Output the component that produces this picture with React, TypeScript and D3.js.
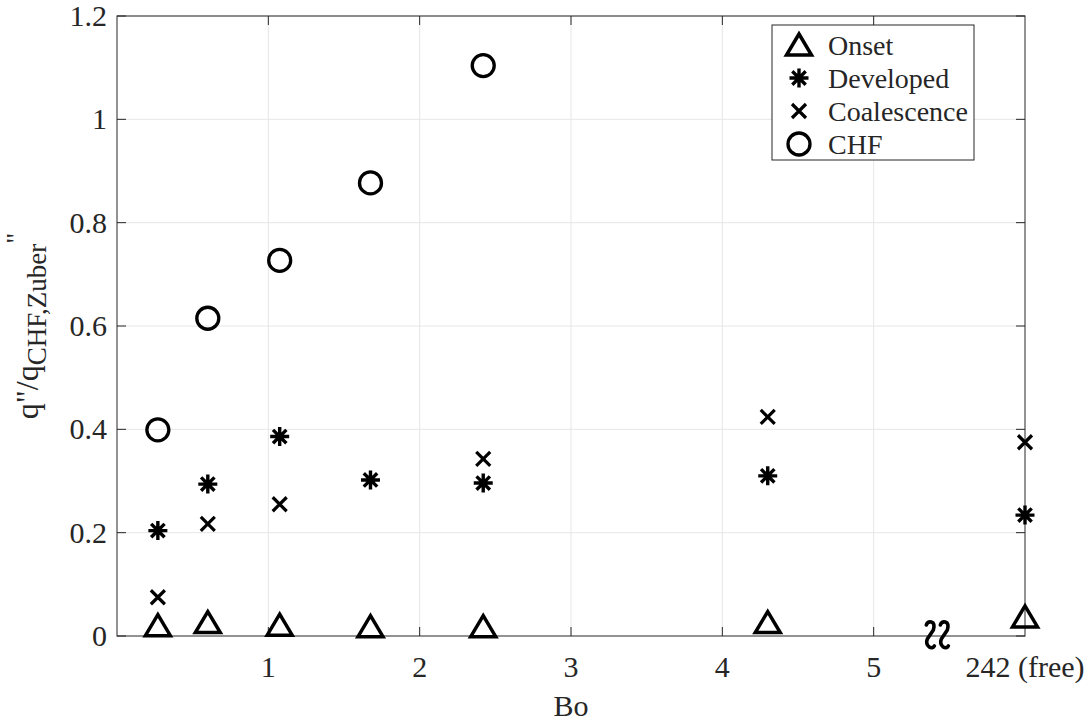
import React from 'react';
import * as d3 from 'd3';

// Bo values of the runs; the last one is the free (unconfined) case drawn past the axis break
const boValues = [0.27, 0.6, 1.075, 1.675, 2.42, 4.3, 242];
const xTickValues = [1, 2, 3, 4, 5, 6];
const xTickLabels = ['1', '2', '3', '4', '5', '242 (free)'];
const yTickValues = [0, 0.2, 0.4, 0.6, 0.8, 1, 1.2];

// q''/q''CHF,Zuber for each stage
const onset = [0.02, 0.026, 0.021, 0.018, 0.018, 0.026, 0.037];
const developed = [0.204, 0.294, 0.386, 0.302, 0.296, 0.31, 0.234];
const coalescence = [0.075, 0.217, 0.255, null, 0.343, 0.424, 0.375];
const chf = [0.399, 0.615, 0.727, 0.877, 1.104, null, null];

const seriesNames = ['Onset', 'Developed', 'Coalescence', 'CHF'];

const W = 1091;
const H = 722;
const margin = { top: 16, right: 66, bottom: 86, left: 117 };
const axisColor = '#262626';
const font = '"Liberation Serif", "Times New Roman", serif';

function Marker({ kind, x, y }: { kind: string; x: number; y: number }) {
  if (kind === 'Onset') {
    return (
      <path
        d="M0,-11L12.5,10L-12.5,10Z"
        transform={`translate(${x},${y})`}
        fill="none"
        stroke="#000"
        strokeWidth={3.5}
        strokeLinejoin="miter"
      />
    );
  }
  if (kind === 'Developed') {
    const a = 9.5;
    const d = 6.7;
    return (
      <path
        d={`M0,${-a}V${a}M${-a},0H${a}M${-d},${-d}L${d},${d}M${-d},${d}L${d},${-d}`}
        transform={`translate(${x},${y})`}
        stroke="#000"
        strokeWidth={3.4}
      />
    );
  }
  if (kind === 'Coalescence') {
    const d = 7;
    return (
      <path
        d={`M${-d},${-d}L${d},${d}M${-d},${d}L${d},${-d}`}
        transform={`translate(${x},${y})`}
        stroke="#000"
        strokeWidth={3.2}
      />
    );
  }
  return <circle cx={x} cy={y} r={11} fill="none" stroke="#000" strokeWidth={3.3} />;
}

export default function App() {
  const x = d3.scaleLinear().domain([0, 6]).range([margin.left, W - margin.right]);
  const y = d3.scaleLinear().domain([0, 1.2]).range([H - margin.bottom, margin.top]);
  // values beyond the break are placed at the last slot
  const xPos = (b: number) => (b > 6 ? x(6) : x(b));

  const x0 = x(0);
  const x1 = x(6);
  const y0 = y(0);
  const y1 = y(1.2);
  const tick = 9;

  const series = [onset, developed, coalescence, chf];

  const legendX = 772;
  const legendY = 25;
  const rowH = 33;

  return (
    <svg
      width={W}
      height={H}
      style={{ position: 'absolute', left: 0, top: 0, background: '#fff' }}
      fontFamily={font}
    >
      <rect x={0} y={0} width={W} height={H} fill="#fff" />
      {/* grid */}
      <g stroke="#e6e6e6" strokeWidth={1}>
        {xTickValues.slice(0, 5).map(t => (
          <line key={'gx' + t} x1={x(t)} x2={x(t)} y1={y0} y2={y1} />
        ))}
        {yTickValues.slice(1).map(t => (
          <line key={'gy' + t} x1={x0} x2={x1} y1={y(t)} y2={y(t)} />
        ))}
      </g>
      {/* box and ticks */}
      <rect x={x0} y={y1} width={x1 - x0} height={y0 - y1} fill="none" stroke={axisColor} strokeWidth={1} />
      <g stroke={axisColor} strokeWidth={1}>
        {xTickValues.slice(0, 5).map(t => (
          <g key={'tx' + t}>
            <line x1={x(t)} x2={x(t)} y1={y0} y2={y0 - tick} />
            <line x1={x(t)} x2={x(t)} y1={y1} y2={y1 + tick} />
          </g>
        ))}
        {yTickValues.map(t => (
          <g key={'ty' + t}>
            <line x1={x0} x2={x0 + tick} y1={y(t)} y2={y(t)} />
            <line x1={x1} x2={x1 - tick} y1={y(t)} y2={y(t)} />
          </g>
        ))}
      </g>
      {/* tick labels */}
      <g fill={axisColor} fontSize={30}>
        {xTickValues.map((t, i) => (
          <text key={'lx' + t} x={x(t)} y={y0 + 41} textAnchor="middle">
            {xTickLabels[i]}
          </text>
        ))}
        {yTickValues.map(t => (
          <text key={'ly' + t} x={x0 - 10} y={y(t) + 10} textAnchor="end">
            {d3.format('~g')(t)}
          </text>
        ))}
      </g>
      {/* axis labels */}
      <text x={x(3)} y={716} textAnchor="middle" fontSize={30} fill={axisColor}>
        Bo
      </text>
      <text
        transform={`translate(38,${(y0 + y1) / 2}) rotate(-90)`}
        textAnchor="middle"
        fontSize={32}
        fill={axisColor}
      >
        q"/q
        <tspan fontSize={27} dy={8}>CHF,Zuber</tspan>
        <tspan fontSize={27} dy={-21}>"</tspan>
      </text>
      {/* axis break */}
      <g
        transform={`translate(${(x(5) + x(6)) / 2 - 12},${y0 - 1})`}
        fill="none"
        stroke="#000"
        strokeWidth={3.6}
        strokeLinecap="round"
        strokeLinejoin="round"
      >
        {[-7, 7].map(dx => (
          <path
            key={dx}
            transform={`translate(${dx},0)`}
            d="M-4,-10Q-3,-14 1,-13Q5,-12 3,-5L-3,4Q-5,9 -1,12Q2,14 4,11"
          />
        ))}
      </g>
      {/* data */}
      {series.map((vals, si) =>
        vals.map((v, i) =>
          v === null ? null : (
            <Marker key={si + '-' + i} kind={seriesNames[si]} x={xPos(boValues[i])} y={y(v)} />
          )
        )
      )}
      {/* legend */}
      <rect x={legendX} y={legendY} width={202} height={135} fill="#fff" stroke={axisColor} strokeWidth={1} />
      {seriesNames.map((name, i) => {
        const cy = legendY + 20 + i * rowH;
        return (
          <g key={name}>
            <Marker kind={name} x={legendX + 27} y={cy} />
            <text x={legendX + 56} y={cy + 10} fontSize={28} fill={axisColor}>
              {name}
            </text>
          </g>
        );
      })}
    </svg>
  );
}
